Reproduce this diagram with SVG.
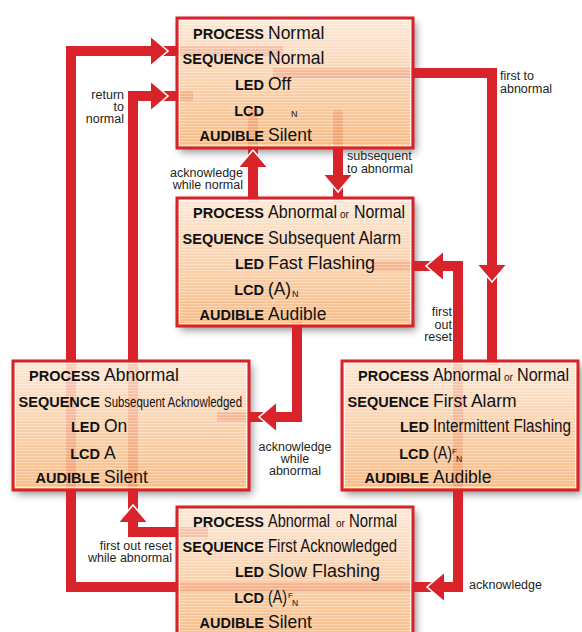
<svg xmlns="http://www.w3.org/2000/svg" xmlns:xlink="http://www.w3.org/1999/xlink" width="582" height="632" viewBox="0 0 582 632">
<style>
.line{fill:none;stroke:#d8232a;stroke-width:10;stroke-linejoin:miter;stroke-linecap:butt}
.box{fill:url(#grad);fill-opacity:.87;stroke:none}
.stripe{fill:url(#stripes);stroke:none}
.border{fill:none;stroke:#d8232a;stroke-width:3}
.inner{fill:none;stroke:#fff;stroke-width:1;stroke-opacity:.7}
.lb{font-family:"Liberation Sans",Arial,sans-serif;font-weight:bold;font-size:14.5px;fill:#111;text-anchor:end}
.v{font-family:"Liberation Sans",Arial,sans-serif;font-size:17.5px;fill:#111}
.sm{font-family:"Liberation Sans",Arial,sans-serif;font-size:10px;fill:#111}
.tiny{font-family:"Liberation Sans",Arial,sans-serif;font-size:9px;fill:#111}
.cl{font-family:"Liberation Sans",Arial,sans-serif;font-size:12.5px;fill:#231f20}
.shadow{fill:#000;filter:url(#sh)}
</style>
<defs>
<linearGradient id="grad" x1="0" y1="0" x2="0" y2="1">
<stop offset="0" stop-color="#fce4cf"/>
<stop offset="1" stop-color="#f6b070"/>
</linearGradient>
<pattern id="stripes" patternUnits="userSpaceOnUse" width="4" height="3">
<rect x="0" y="0" width="4" height="1.2" fill="#fff" fill-opacity=".35"/>
</pattern>
<filter id="sh" x="-20%" y="-20%" width="140%" height="140%">
<feGaussianBlur in="SourceAlpha" stdDeviation="4"/>
<feOffset dx="3" dy="4" result="b"/>
<feComponentTransfer in="b" result="c"><feFuncA type="linear" slope="0.45"/></feComponentTransfer>
<feComposite in="c" in2="SourceAlpha" operator="out"/>
</filter>
<g id="ah">
<polygon points="-17,-14.5 0,0 -17,14.5" fill="#d8232a"/>
<polyline points="-17,-14.5 0,0 -17,14.5" fill="none" stroke="#fff" stroke-width="1.6"/>
</g>
</defs>
<rect width="582" height="632" fill="#fff"/>
<g id="shadows">
<rect class="shadow" x="177" y="18" width="236" height="130"/>
<rect class="shadow" x="177" y="198" width="236" height="128"/>
<rect class="shadow" x="13" y="361" width="236" height="129"/>
<rect class="shadow" x="342" y="361" width="236" height="129"/>
<rect class="shadow" x="177" y="507" width="236" height="135"/>
</g>
<g id="connectors">
<path class="line" d="M373 266 H458 V587 H71 V51 H283"/>
<path class="line" d="M193 96 H133 V532 H208"/>
<path class="line" d="M273 73 H492 V365"/>
<path class="line" d="M338 110 V202"/>
<path class="line" d="M253 110 V202"/>
<path class="line" d="M297 322 V417 H217"/>
<use xlink:href="#ah" href="#ah" transform="translate(168,51)"/>
<use xlink:href="#ah" href="#ah" transform="translate(168,96)"/>
<use xlink:href="#ah" href="#ah" transform="translate(492,282) rotate(90)"/>
<use xlink:href="#ah" href="#ah" transform="translate(426,266) rotate(180)"/>
<use xlink:href="#ah" href="#ah" transform="translate(338,192) rotate(90)"/>
<use xlink:href="#ah" href="#ah" transform="translate(253,150) rotate(-90)"/>
<use xlink:href="#ah" href="#ah" transform="translate(259,417) rotate(180)"/>
<use xlink:href="#ah" href="#ah" transform="translate(427,587) rotate(180)"/>
<use xlink:href="#ah" href="#ah" transform="translate(133,505) rotate(-90)"/>
<text class="cl" text-anchor="end" x="124" y="99">return</text>
<text class="cl" text-anchor="end" x="124" y="111">to</text>
<text class="cl" text-anchor="end" x="124" y="123">normal</text>
<text class="cl" x="500" y="80">first to</text>
<text class="cl" x="500" y="93">abnormal</text>
<text class="cl" x="347" y="160">subsequent</text>
<text class="cl" x="347" y="173">to abnormal</text>
<text class="cl" text-anchor="end" x="243" y="177">acknowledge</text>
<text class="cl" text-anchor="end" x="243" y="189">while normal</text>
<text class="cl" text-anchor="end" x="452" y="316">first</text>
<text class="cl" text-anchor="end" x="452" y="329">out</text>
<text class="cl" text-anchor="end" x="452" y="341">reset</text>
<text class="cl" text-anchor="middle" x="295" y="451">acknowledge</text>
<text class="cl" text-anchor="middle" x="295" y="463">while</text>
<text class="cl" text-anchor="middle" x="295" y="475">abnormal</text>
<text class="cl" text-anchor="end" x="172" y="550">first out reset</text>
<text class="cl" text-anchor="end" x="172" y="562">while abnormal</text>
<text class="cl" x="469" y="589">acknowledge</text>
</g>
<g id="node-normal">
<rect class="box" x="177" y="18" width="236" height="130"/>
<rect class="stripe" x="177" y="18" width="236" height="130"/>
<rect class="inner" x="179.5" y="20.5" width="231" height="125"/>
<rect class="border" x="177" y="18" width="236" height="130"/>
<text class="lb" x="264" y="39">PROCESS</text><text class="v" x="268" y="39">Normal</text>
<text class="lb" x="264" y="64">SEQUENCE</text><text class="v" x="268" y="64">Normal</text>
<text class="lb" x="264" y="90">LED</text><text class="v" x="268" y="90">Off</text>
<text class="lb" x="264" y="116">LCD</text><text class="tiny" x="291" y="117">N</text>
<text class="lb" x="264" y="141">AUDIBLE</text><text class="v" x="268" y="141">Silent</text>
</g>
<g id="node-subsequent-alarm">
<rect class="box" x="177" y="198" width="236" height="128"/>
<rect class="stripe" x="177" y="198" width="236" height="128"/>
<rect class="inner" x="179.5" y="200.5" width="231" height="123"/>
<rect class="border" x="177" y="198" width="236" height="128"/>
<text class="lb" x="264" y="218">PROCESS</text><text class="v" x="268" y="218" textLength="69" lengthAdjust="spacingAndGlyphs">Abnormal</text><text class="sm" x="340" y="218">or</text><text class="v" x="354" y="218" textLength="51" lengthAdjust="spacingAndGlyphs">Normal</text>
<text class="lb" x="264" y="244">SEQUENCE</text><text class="v" x="268" y="244" textLength="133" lengthAdjust="spacingAndGlyphs">Subsequent Alarm</text>
<text class="lb" x="264" y="269">LED</text><text class="v" x="268" y="269" textLength="107" lengthAdjust="spacingAndGlyphs">Fast Flashing</text>
<text class="lb" x="264" y="295">LCD</text><text class="v" x="268" y="295" textLength="23" lengthAdjust="spacingAndGlyphs">(A)</text><text class="tiny" x="292" y="297">N</text>
<text class="lb" x="264" y="320">AUDIBLE</text><text class="v" x="268" y="320">Audible</text>
</g>
<g id="node-subsequent-acknowledged">
<rect class="box" x="13" y="361" width="236" height="129"/>
<rect class="stripe" x="13" y="361" width="236" height="129"/>
<rect class="inner" x="15.5" y="363.5" width="231" height="124"/>
<rect class="border" x="13" y="361" width="236" height="129"/>
<text class="lb" x="100" y="381">PROCESS</text><text class="v" x="104" y="381">Abnormal</text>
<text class="lb" x="100" y="407">SEQUENCE</text><text class="v" x="104" y="407" style="font-size:14.5px" textLength="138" lengthAdjust="spacingAndGlyphs">Subsequent Acknowledged</text>
<text class="lb" x="100" y="432">LED</text><text class="v" x="104" y="432">On</text>
<text class="lb" x="100" y="459">LCD</text><text class="v" x="104" y="459">A</text>
<text class="lb" x="100" y="483">AUDIBLE</text><text class="v" x="104" y="483">Silent</text>
</g>
<g id="node-first-alarm">
<rect class="box" x="342" y="361" width="236" height="129"/>
<rect class="stripe" x="342" y="361" width="236" height="129"/>
<rect class="inner" x="344.5" y="363.5" width="231" height="124"/>
<rect class="border" x="342" y="361" width="236" height="129"/>
<text class="lb" x="429" y="381">PROCESS</text><text class="v" x="433" y="381" textLength="68" lengthAdjust="spacingAndGlyphs">Abnormal</text><text class="sm" x="504" y="381">or</text><text class="v" x="517" y="381" textLength="52" lengthAdjust="spacingAndGlyphs">Normal</text>
<text class="lb" x="429" y="407">SEQUENCE</text><text class="v" x="433" y="407">First Alarm</text>
<text class="lb" x="429" y="432">LED</text><text class="v" x="433" y="432" textLength="138" lengthAdjust="spacingAndGlyphs">Intermittent Flashing</text>
<text class="lb" x="429" y="459">LCD</text><text class="v" x="433" y="459" textLength="19" lengthAdjust="spacingAndGlyphs">(A)</text><text class="tiny" x="452" y="454" style="font-size:8px">F</text><text class="tiny" x="456" y="462" style="font-size:8.5px">N</text>
<text class="lb" x="429" y="483">AUDIBLE</text><text class="v" x="433" y="483">Audible</text>
</g>
<g id="node-first-acknowledged">
<rect class="box" x="177" y="507" width="236" height="135"/>
<rect class="stripe" x="177" y="507" width="236" height="135"/>
<rect class="inner" x="179.5" y="509.5" width="231" height="130"/>
<rect class="border" x="177" y="507" width="236" height="135"/>
<text class="lb" x="264" y="527">PROCESS</text><text class="v" x="268" y="527" textLength="62" lengthAdjust="spacingAndGlyphs">Abnormal</text><text class="sm" x="336" y="527">or</text><text class="v" x="349" y="527" textLength="48" lengthAdjust="spacingAndGlyphs">Normal</text>
<text class="lb" x="264" y="552">SEQUENCE</text><text class="v" x="268" y="552" textLength="129" lengthAdjust="spacingAndGlyphs">First Acknowledged</text>
<text class="lb" x="264" y="577">LED</text><text class="v" x="268" y="577" textLength="112" lengthAdjust="spacingAndGlyphs">Slow Flashing</text>
<text class="lb" x="264" y="603">LCD</text><text class="v" x="268" y="603" textLength="19" lengthAdjust="spacingAndGlyphs">(A)</text><text class="tiny" x="288" y="598" style="font-size:8px">F</text><text class="tiny" x="292" y="606" style="font-size:8.5px">N</text>
<text class="lb" x="264" y="628">AUDIBLE</text><text class="v" x="268" y="628">Silent</text>
</g>
</svg>
